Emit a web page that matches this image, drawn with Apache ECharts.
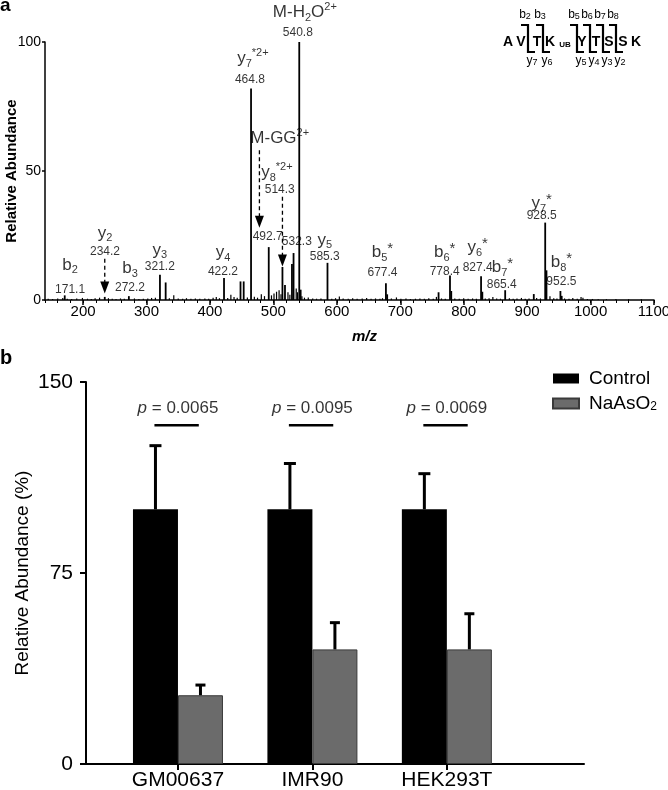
<!DOCTYPE html>
<html><head><meta charset="utf-8">
<script src="https://cdn.jsdelivr.net/npm/echarts@6/dist/echarts.min.js"></script>
<style>html,body{margin:0;padding:0;background:#fff}#c{width:668px;height:790px}</style>
</head><body><div id="c"></div>
<script>
const FONT = '"Liberation Sans", Arial, Helvetica, sans-serif';

// ---------- Panel a: MS/MS spectrum ----------
const mzTicks = [200, 300, 400, 500, 600, 700, 800, 900, 1000, 1100];
const peakMz = [171.1, 234.2, 272.2, 321.2, 330.2, 422.2, 448.2, 453.2, 464.8, 492.7, 514.3, 518.3, 529.3, 531.8, 540.8, 543.0, 585.3, 677.4, 679.4, 760.4, 778.4, 780.4, 827.4, 829.4, 865.4, 910.5, 928.5, 930.5, 952.5, 954.5];
const peakAbundance = [1.8, 1.2, 1.5, 9.8, 6.8, 8.5, 7.2, 7.2, 82, 20.5, 12.8, 5.8, 14.0, 18.2, 100, 4.0, 14.4, 6.5, 2.2, 3.0, 9.5, 3.5, 9.2, 3.2, 3.8, 2.3, 30, 11.5, 3.5, 1.6];
const noiseMz = [145,152,160,168,175,182,190,199,207,213,219,226,240,246,252,259,265,281,288,295,302,308,314,336,343,350,357,363,370,377,384,392,398,405,410,415,428,433,438,443,459,470,475,481,486,497,501,505,509,512,523,526,536,538,545,549,555,562,568,575,592,598,604,610,618,625,632,640,647,654,661,668,672,686,694,701,709,716,724,731,738,745,752,757,765,771,786,793,800,807,814,820,834,840,846,852,858,872,878,884,891,897,903,915,921,936,942,947,959,966,972,979,985,988,995,1003,1012,1025,1040,1060,1080];
const noiseAbundance = [0.5,0.4,0.6,0.8,0.5,0.4,0.6,0.8,0.5,0.4,0.7,0.9,0.7,0.5,0.4,0.6,0.5,0.6,0.4,0.5,0.6,0.8,0.9,0.7,1.8,0.6,0.5,0.7,0.5,0.6,0.5,0.6,0.5,0.9,1.2,0.7,0.8,2.0,1.2,0.9,1.0,1.3,0.9,2.2,1.5,1.8,2.5,3.2,3.8,2.2,3.0,2.0,4.5,3.0,1.5,0.9,1.0,0.6,0.5,0.6,0.5,0.7,1.4,0.6,0.5,0.7,0.5,0.6,0.8,0.5,0.6,0.5,0.7,0.6,1.0,0.5,0.6,0.4,0.5,0.6,0.5,0.7,0.5,1.2,0.6,0.5,0.6,0.5,0.7,0.5,0.6,0.5,0.6,0.7,1.2,0.6,0.5,0.7,0.5,0.6,0.8,0.5,0.6,0.8,0.6,1.5,0.7,0.6,0.6,0.5,0.8,0.5,1.2,0.9,0.4,0.4,0.3,0.3,0.4,0.3,0.3];

const ionNames = ['{n|b}{s|2}','{n|y}{s|2}','{n|b}{s|3}','{n|y}{s|3}','{n|y}{s|4}','{n|y}{s|5}','{n|b}{s|5}{st|*}','{n|b}{s|6}{st|*}','{n|y}{s|6}{st|*}','{n|b}{s|7}{st|*}','{n|y}{s|7}{st|*}','{n|b}{s|8}{st|*}','{n|M-H}{s|2}{n|O}{u|2+}','{n|y}{s|7}{u|*2+}','{n|M-GG}{u|2+}','{n|y}{s|8}{u|*2+}'];
const ionNameMz = [179.5, 234.6, 274, 321, 420.5, 581, 672, 770, 822, 861, 923, 954, 549.6, 467.7, 510, 505.5];
const ionNameAb = [13.6, 26, 12.4, 19.4, 18.6, 23.3, 18.6, 18.6, 20.5, 12.8, 37.5, 14.7, 111.6, 93.8, 62.8, 49.6];
const mzLabels = ['171.1','234.2','272.2','321.2','422.2','585.3','677.4','778.4','827.4','865.4','928.5','952.5','540.8','464.8','492.7','514.3','532.3'];
const mzLabelMz = [179.5, 234.6, 274, 321, 420.5, 581, 672, 770, 822, 860, 923, 954, 538.6, 463, 491, 510, 537];
const mzLabelAb = [3.9, 18.6, 4.7, 12.8, 10.9, 16.7, 10.5, 10.9, 12.4, 5.8, 32.6, 7, 103.5, 85.3, 24.4, 42.6, 22.5];
const arrowMz = [234.2, 478, 514.3];
const arrowFrom = [16, 58, 40];
const arrowTo = [2.5, 28, 13];

// peptide inset
const residues = ['A','V','T','K','Y','T','S','S','K'];
const bIons = ['2','3','5','6','7','8'];
const yIons = ['7','6','5','4','3','2'];

// ---------- Panel b: bar chart ----------
const cellLines = ['GM00637','IMR90','HEK293T'];
const controlMean = [100, 100, 100];
const controlErr = [25, 18, 14];
const arseniteMean = [27, 45, 45];
const arseniteErr = [4, 10.5, 14];
const pValues = ['0.0065','0.0095','0.0069'];
const pctTicks = [0, 75, 150];

const chart = echarts.init(document.getElementById('c'), null, {renderer:'canvas'});

const richIon = {
  n: {fontSize: 17, lineHeight: 22, fontFamily: FONT, color: '#000'},
  s: {fontSize: 11, lineHeight: 9, verticalAlign: 'bottom', fontFamily: FONT, color: '#000'},
  u: {fontSize: 11, lineHeight: 11, verticalAlign: 'top', fontFamily: FONT, color: '#000'},
  st: {fontSize: 15, lineHeight: 13, verticalAlign: 'top', fontFamily: FONT, color: '#000'}
};

function lineRender(width) {
  return function (params, api) {
    const p0 = api.coord([api.value(0), 0]);
    const p1 = api.coord([api.value(0), api.value(1)]);
    return {type: 'line', shape: {x1: p0[0], y1: p0[1], x2: p1[0], y2: p1[1]}, style: {stroke: '#000', lineWidth: width}};
  };
}

function errorBars(means, errs, dx, cap) {
  return {
    type: 'custom', xAxisIndex: 2, yAxisIndex: 1, silent: true, z: 3,
    data: means.map((m, i) => [i, m, errs[i]]),
    renderItem: function (params, api) {
      const i = api.value(0), m = api.value(1), e = api.value(2);
      const b = api.coord([i, m]), t = api.coord([i, m + e]);
      const x = b[0] + dx;
      return {type: 'group', children: [
        {type: 'line', shape: {x1: x, y1: b[1], x2: x, y2: t[1]}, style: {stroke: '#000', lineWidth: 3}},
        {type: 'line', shape: {x1: x - cap / 2, y1: t[1], x2: x + cap / 2, y2: t[1]}, style: {stroke: '#000', lineWidth: 3}}
      ]};
    }
  };
}

// inset graphic (annotation)
const insetChildren = [];
const resX = [508, 521, 537, 550, 582, 596, 609, 623, 636];
residues.forEach((r, i) => insetChildren.push({type: 'text', x: resX[i], y: 42, style: {text: r, font: 'bold 14px ' + FONT, fill: '#000', align: 'center', verticalAlign: 'middle'}}));
insetChildren.push({type: 'text', x: 565, y: 45, style: {text: 'UB', font: 'bold 8px ' + FONT, fill: '#000', align: 'center', verticalAlign: 'middle'}});
const cutX = [528, 543, 577, 590, 603, 616];
cutX.forEach((x, i) => {
  insetChildren.push({type: 'polyline', shape: {points: [[x - 7, 25], [x, 25], [x, 38]]}, style: {stroke: '#000', lineWidth: 2.2, fill: null}});
  insetChildren.push({type: 'polyline', shape: {points: [[x, 38], [x, 52], [x + 7, 52]]}, style: {stroke: '#000', lineWidth: 2.2, fill: null}});
  insetChildren.push({type: 'text', x: x - 3, y: 15, style: {text: 'b{s|' + bIons[i] + '}', font: '12px ' + FONT, fill: '#000', align: 'center', verticalAlign: 'middle', rich: {s: {fontSize: 9, lineHeight: 8, verticalAlign: 'bottom', fontFamily: FONT}}}});
  insetChildren.push({type: 'text', x: x + 4, y: 61, style: {text: 'y{s|' + yIons[i] + '}', font: '12px ' + FONT, fill: '#000', align: 'center', verticalAlign: 'middle', rich: {s: {fontSize: 9, lineHeight: 8, verticalAlign: 'bottom', fontFamily: FONT}}}});
});

const option = {
  animation: false,
  backgroundColor: '#fff',
  textStyle: {fontFamily: FONT, color: '#000'},
  title: [
    {text: 'a', left: 0, top: -4, padding: 0, textStyle: {fontSize: 19, fontWeight: 'bold', fontFamily: FONT, color: '#000'}},
    {text: 'b', left: 0, top: 348, padding: 0, textStyle: {fontSize: 20, fontWeight: 'bold', fontFamily: FONT, color: '#000'}}
  ],
  legend: {
    data: ['Control', 'NaAsO2'], orient: 'vertical', left: 547, top: 364, itemWidth: 26, itemHeight: 10, itemGap: 6,
    selectedMode: false, icon: 'rect',
    formatter: n => n === 'NaAsO2' ? 'NaAsO{s|2}' : n,
    textStyle: {fontSize: 19, fontFamily: FONT, color: '#000', padding: [0, 0, 0, 5], rich: {s: {fontSize: 12, lineHeight: 10, verticalAlign: 'bottom', fontFamily: FONT}}}
  },
  grid: [
    {left: 45, right: 14, top: 42, height: 258, outerBoundsMode: 'none', containLabel: false},
    {left: 86, right: 84, top: 382, height: 382, outerBoundsMode: 'none', containLabel: false}
  ],
  xAxis: [
    {type: 'value', gridIndex: 0, min: 140, max: 1100, position: 'bottom',
     axisLine: {onZero: false, lineStyle: {color: '#000', width: 1.5}},
     axisTick: {customValues: mzTicks, length: 5, lineStyle: {color: '#000', width: 1.5}},
     axisLabel: {customValues: mzTicks, formatter: v => String(v), fontSize: 15, color: '#000', margin: 4, fontFamily: FONT},
     splitLine: {show: false},
     name: 'm/z', nameLocation: 'middle', nameGap: 29, nameMoveOverlap: false,
     nameTextStyle: {fontSize: 15, fontWeight: 'bold', fontStyle: 'italic', color: '#000', fontFamily: FONT, padding: [0, 0, 0, 30]}},
    {type: 'value', gridIndex: 0, min: 140, max: 1100, interval: 20, position: 'bottom',
     axisLine: {show: false, onZero: false}, axisLabel: {show: false}, splitLine: {show: false},
     axisTick: {length: 3, lineStyle: {color: '#000', width: 1}}},
    {type: 'value', gridIndex: 1, min: -0.684, max: 3.02, position: 'bottom',
     axisLine: {onZero: false, lineStyle: {color: '#000', width: 2}},
     axisTick: {customValues: [0, 1, 2], length: 6, lineStyle: {color: '#000', width: 2}},
     axisLabel: {customValues: [0, 1, 2], formatter: v => cellLines[Math.round(v)], fontSize: 21, color: '#000', margin: 6, fontFamily: FONT},
     splitLine: {show: false}}
  ],
  yAxis: [
    {type: 'value', gridIndex: 0, min: 0, max: 100, interval: 50, position: 'left',
     axisLine: {show: true, onZero: false, lineStyle: {color: '#000', width: 1.5}},
     axisTick: {show: true, length: 3, lineStyle: {color: '#000', width: 1.5}},
     axisLabel: {fontSize: 14, color: '#000', margin: 4, fontFamily: FONT},
     splitLine: {show: false},
     name: 'Relative Abundance', nameLocation: 'middle', nameGap: 26, nameMoveOverlap: false,
     nameTextStyle: {fontSize: 15, fontWeight: 'bold', color: '#000', fontFamily: FONT}},
    {type: 'value', gridIndex: 1, min: 0, max: 150, interval: 75, position: 'left',
     axisLine: {show: true, onZero: false, lineStyle: {color: '#000', width: 2}},
     axisTick: {show: true, length: 6, lineStyle: {color: '#000', width: 2}},
     axisLabel: {fontSize: 21, color: '#000', margin: 13, fontFamily: FONT},
     splitLine: {show: false},
     name: 'Relative Abundance (%)', nameLocation: 'middle', nameGap: 54, nameMoveOverlap: false,
     nameTextStyle: {fontSize: 19, color: '#000', fontFamily: FONT}}
  ],
  graphic: insetChildren,
  series: [
    {type: 'custom', name: 'noise', xAxisIndex: 0, yAxisIndex: 0, silent: true,
     data: noiseMz.map((m, i) => [m, noiseAbundance[i]]), renderItem: lineRender(1.2)},
    {type: 'custom', name: 'peaks', xAxisIndex: 0, yAxisIndex: 0, silent: true,
     data: peakMz.map((m, i) => [m, peakAbundance[i]]), renderItem: lineRender(1.8)},
    {type: 'custom', name: 'arrows', xAxisIndex: 0, yAxisIndex: 0, silent: true, z: 4,
     data: arrowMz.map((m, i) => [m, arrowFrom[i], arrowTo[i]]),
     renderItem: function (params, api) {
       const a = api.coord([api.value(0), api.value(1)]);
       const b = api.coord([api.value(0), api.value(2)]);
       return {type: 'group', children: [
         {type: 'line', shape: {x1: a[0], y1: a[1], x2: b[0], y2: b[1] - 10}, style: {stroke: '#000', lineWidth: 1.3, lineDash: [4, 3]}},
         {type: 'polygon', shape: {points: [[b[0] - 4.5, b[1] - 12], [b[0] + 4.5, b[1] - 12], [b[0], b[1]]]}, style: {fill: '#000'}}
       ]};
     }},
    {type: 'scatter', name: 'ionNames', xAxisIndex: 0, yAxisIndex: 0, symbolSize: 0, silent: true, clip: false, z: 5,
     data: ionNameMz.map((m, i) => [m, ionNameAb[i]]),
     label: {show: true, position: 'inside', formatter: p => ionNames[p.dataIndex], rich: richIon}},
    {type: 'scatter', name: 'mzLabels', xAxisIndex: 0, yAxisIndex: 0, symbolSize: 0, silent: true, clip: false, z: 5,
     data: mzLabelMz.map((m, i) => [m, mzLabelAb[i]]),
     label: {show: true, position: 'inside', formatter: p => mzLabels[p.dataIndex], fontSize: 12, color: '#000', fontFamily: FONT}},

    {type: 'bar', name: 'Control', xAxisIndex: 2, yAxisIndex: 1, barWidth: 45, barGap: '0%',
     data: controlMean.map((v, i) => [i, v]), itemStyle: {color: '#000'}},
    {type: 'bar', name: 'NaAsO2', xAxisIndex: 2, yAxisIndex: 1, barWidth: 45, barGap: '0%',
     data: arseniteMean.map((v, i) => [i, v]), itemStyle: {color: '#6b6b6b', borderColor: '#3a3a3a', borderWidth: 1}},
    errorBars(controlMean, controlErr, -22.5, 12),
    errorBars(arseniteMean, arseniteErr, 22.5, 10),
    {type: 'custom', name: 'pLines', xAxisIndex: 2, yAxisIndex: 1, silent: true,
     data: cellLines.map((c, i) => [i, 133]),
     renderItem: function (params, api) {
       const a = api.coord([api.value(0) - 0.175, api.value(1)]);
       const b = api.coord([api.value(0) + 0.155, api.value(1)]);
       return {type: 'line', shape: {x1: a[0], y1: a[1], x2: b[0], y2: b[1]}, style: {stroke: '#000', lineWidth: 2.5}};
     }},
    {type: 'scatter', name: 'pText', xAxisIndex: 2, yAxisIndex: 1, symbolSize: 0, silent: true, clip: false,
     data: cellLines.map((c, i) => [i, 139.5]),
     label: {show: true, position: 'inside', formatter: p => '{i|p} = ' + pValues[p.dataIndex], fontSize: 17, color: '#000', fontFamily: FONT,
       rich: {i: {fontStyle: 'italic', fontSize: 17, fontFamily: FONT, color: '#000'}}}}
  ]
};
chart.setOption(option);
</script>
</body></html>
